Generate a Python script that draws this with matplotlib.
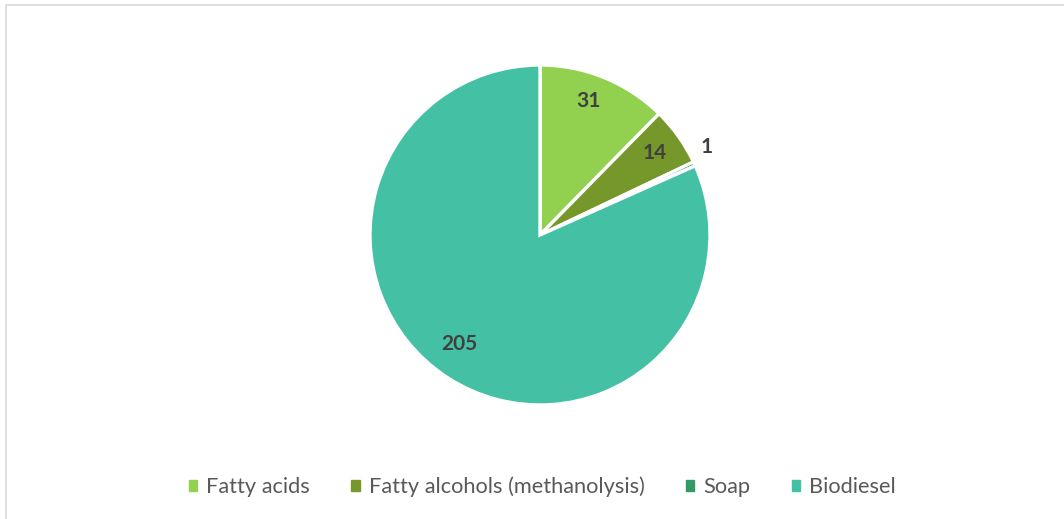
import numpy as np
import matplotlib
matplotlib.use('Agg')
from matplotlib import pyplot as plt
from matplotlib.patches import Rectangle

categories = ['Fatty acids', 'Fatty alcohols (methanolysis)', 'Soap', 'Biodiesel']
values = [31, 14, 1, 205]
colors = ['#92D050', '#76982A', '#339966', '#44C1A4']

# label placement: radius (fraction of pie radius) and angle nudge in degrees
label_r = [0.84, 0.83, 1.11, 0.80]
label_dtheta = [2.5, 0.0, 3.1, -3.4]

W, H = 1064, 519
fig = plt.figure(figsize=(W / 100, H / 100), dpi=100)
plt.rcParams['font.family'] = ['Lato', 'DejaVu Sans']

# chart area border
fig.patches.append(Rectangle((6 / W, -0.1), 1.2, 1 - 5 / H + 0.1, transform=fig.transFigure,
                             fill=False, edgecolor='#D9D9D9', lw=1.2))

cx, cy, r = 540, 235, 170
ax = fig.add_axes([(cx - r) / W, (H - cy - r) / H, 2 * r / W, 2 * r / H])
wedges, _ = ax.pie(values, colors=colors, startangle=90, counterclock=False,
                   wedgeprops=dict(edgecolor='white', linewidth=2.4))
ax.set_xlim(-1, 1)
ax.set_ylim(-1, 1)
ax.set_aspect('equal')
ax.axis('off')

for w, v, lr, dt in zip(wedges, values, label_r, label_dtheta):
    ang = np.deg2rad((w.theta1 + w.theta2) / 2 + dt)
    ax.text(lr * np.cos(ang), lr * np.sin(ang), str(v), ha='center', va='center',
            fontsize=15, fontweight='bold', color='#404040')

handles = [plt.Rectangle((0, 0), 1, 1, color=c) for c in colors]
fig.legend(handles, categories, loc='center', bbox_to_anchor=(542.5 / W, 1 - 487 / H), ncol=4,
           frameon=False, fontsize=15.7, handlelength=0.38, handleheight=0.38,
           handletextpad=0.42, columnspacing=1.9, labelcolor='#595959')

fig.savefig('out.png', dpi=100)
